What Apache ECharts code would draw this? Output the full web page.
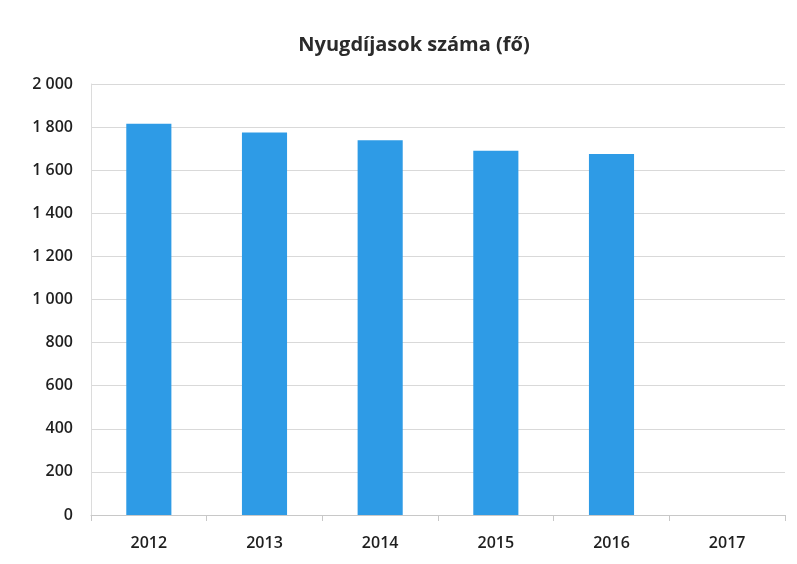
<!DOCTYPE html>
<html><head><meta charset="utf-8">
<script src="https://cdn.jsdelivr.net/npm/echarts@6/dist/echarts.min.js"></script>
<style>html,body{margin:0;padding:0;background:#fff}#c{width:797px;height:564px}</style>
</head><body><div id="c"></div>
<script>
const categories = ['2012','2013','2014','2015','2016','2017'];
const pensioners = [1816, 1775, 1739, 1690, 1675, null];
const yTicks = [0, 200, 400, 600, 800, 1000, 1200, 1400, 1600, 1800, 2000];

const chart = echarts.init(document.getElementById('c'));
chart.setOption({
  animation: false,
  title: {
    text: 'Nyugdíjasok száma (fő)',
    left: 409, top: 30, textAlign: 'center',
    textStyle: {fontFamily: 'Open Sans', fontWeight: 'bold', fontSize: 20, color: '#2b2b2b'}
  },
  grid: {left: 91, right: 12, top: 84, bottom: 49},
  xAxis: {
    type: 'category', data: categories,
    axisLine: {lineStyle: {color: '#c8c8c8'}},
    axisTick: {show: true, lineStyle: {color: '#c8c8c8'}, length: 6},
    axisLabel: {fontFamily: 'Open Sans', fontWeight: 600, fontSize: 16, color: '#1f1f1f', margin: 20}
  },
  yAxis: {
    type: 'value', min: yTicks[0], max: yTicks[yTicks.length - 1], interval: 200,
    axisLine: {show: true, lineStyle: {color: '#dcdcdc'}},
    axisTick: {show: false},
    splitLine: {lineStyle: {color: '#d9d9d9'}},
    axisLabel: {
      fontFamily: 'Open Sans', fontWeight: 600, fontSize: 16, color: '#1f1f1f', margin: 18,
      formatter: v => String(v).replace(/\B(?=(\d{3})+(?!\d))/g, ' ')
    }
  },
  series: [{
    type: 'bar', data: pensioners, barWidth: '39%',
    itemStyle: {color: '#2e9be6'}
  }]
});
</script></body></html>
